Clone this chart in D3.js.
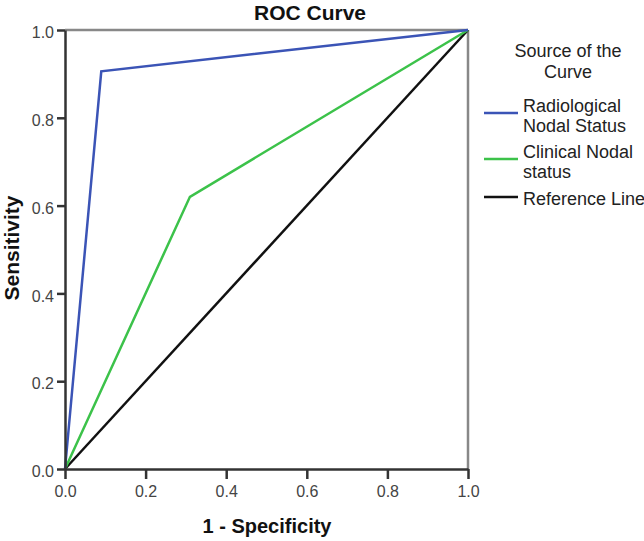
<!DOCTYPE html>
<html><head><meta charset="utf-8">
<script src="https://cdn.jsdelivr.net/npm/d3@7"></script>
<style>body{margin:0;background:#fff}text{font-family:"Liberation Sans",Arial,sans-serif}</style>
</head><body>
<svg id="c" width="644" height="541"></svg>
<script>
const seriesNames = ["Radiological Nodal Status", "Clinical Nodal status", "Reference Line"];
const radiologicalX = [0, 0.09, 1];
const radiologicalY = [0, 0.906, 1];
const clinicalX = [0, 0.31, 1];
const clinicalY = [0, 0.62, 1];
const referenceX = [0, 1];
const referenceY = [0, 1];
const tickValues = [0, 0.2, 0.4, 0.6, 0.8, 1.0];

const svg = d3.select("#c");
const L = 65, R = 468, T = 30, B = 469;
const x = d3.scaleLinear().domain([0, 1]).range([L, R]);
const y = d3.scaleLinear().domain([0, 1]).range([B, T]);

// frame top/right
svg.append("line").attr("x1", L).attr("x2", R).attr("y1", T).attr("y2", T).attr("stroke", "#888").attr("stroke-width", 2.5);
svg.append("line").attr("x1", R).attr("x2", R).attr("y1", T).attr("y2", B).attr("stroke", "#888").attr("stroke-width", 2.5);

const line = d3.line().x(d => x(d[0])).y(d => y(d[1]));
const series = [
  {xs: radiologicalX, ys: radiologicalY, color: "#3b54b6"},
  {xs: clinicalX, ys: clinicalY, color: "#3cc24a"},
  {xs: referenceX, ys: referenceY, color: "#111"}
];
series.slice().reverse().forEach(s => {
  svg.append("path").datum(s.xs.map((v, i) => [v, s.ys[i]]))
    .attr("d", line).attr("fill", "none").attr("stroke", s.color).attr("stroke-width", 2.5);
});

const xAxis = svg.append("g").attr("transform", `translate(0,${B})`)
  .call(d3.axisBottom(x).tickValues(tickValues).tickFormat(d3.format(".1f")).tickSize(10).tickSizeOuter(0));
const yAxis = svg.append("g").attr("transform", `translate(${L},0)`)
  .call(d3.axisLeft(y).tickValues(tickValues).tickFormat(d3.format(".1f")).tickSize(8).tickSizeOuter(0));
[xAxis, yAxis].forEach(g => {
  g.select(".domain").attr("stroke", "#333").attr("stroke-width", 2.5);
  g.selectAll(".tick line").attr("stroke", "#333").attr("stroke-width", 2.5);
  g.selectAll(".tick text").attr("fill", "#444").attr("font-size", 16).attr("font-family", "Liberation Sans, Arial, sans-serif");
});
xAxis.selectAll(".tick text").attr("dy", "0").attr("y", 28);
yAxis.selectAll(".tick text").attr("x", -11).attr("dy", "0.48em");

svg.append("text").attr("x", 310).attr("y", 20).attr("text-anchor", "middle")
  .attr("font-weight", "bold").attr("font-size", 21).attr("fill", "#111").text("ROC Curve");
svg.append("text").attr("x", 267).attr("y", 533).attr("text-anchor", "middle")
  .attr("font-weight", "bold").attr("font-size", 20).attr("fill", "#111").text("1 - Specificity");
svg.append("text").attr("transform", `translate(19,248) rotate(-90)`).attr("text-anchor", "middle")
  .attr("font-weight", "bold").attr("font-size", 21).attr("fill", "#111").text("Sensitivity");

// legend
const lg = svg.append("g");
lg.append("text").attr("x", 568).attr("y", 57).attr("text-anchor", "middle").attr("font-size", 18).attr("fill", "#222").text("Source of the");
lg.append("text").attr("x", 568).attr("y", 78).attr("text-anchor", "middle").attr("font-size", 18).attr("fill", "#222").text("Curve");
const legendLines = [
  ["Radiological", "Nodal Status"],
  ["Clinical Nodal", "status"],
  ["Reference Line"]
];
const legendY = [113, 159, 197];
const legendBase = [112, 158, 205];
series.forEach((s, i) => {
  lg.append("line").attr("x1", 484).attr("x2", 518).attr("y1", legendY[i]).attr("y2", legendY[i])
    .attr("stroke", s.color).attr("stroke-width", 2.5);
  legendLines[i].forEach((t, j) => {
    lg.append("text").attr("x", 523).attr("y", legendBase[i] + j * 20).attr("font-size", 18).attr("fill", "#222").text(t);
  });
});
</script>
</body></html>
